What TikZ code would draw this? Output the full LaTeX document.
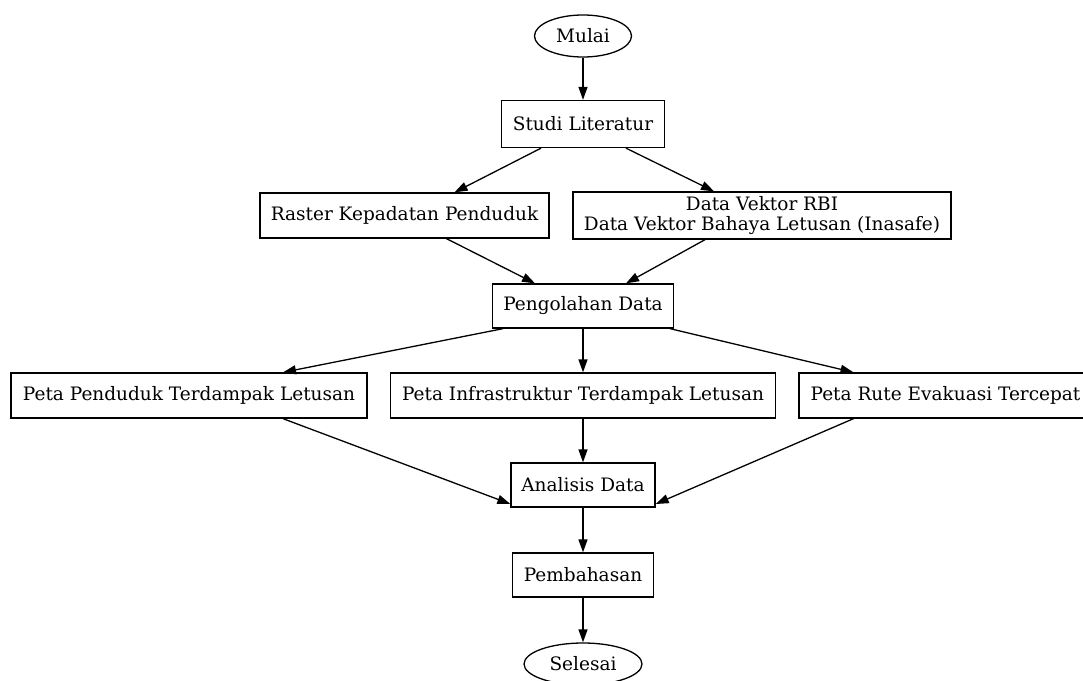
\documentclass[tikz,border=0pt]{standalone}
\usepackage{fontspec}
\setmainfont{DejaVu Serif}
\usetikzlibrary{arrows.meta,shapes.geometric}
\tikzset{
  box/.style={draw, line width=1.3pt, rectangle, inner sep=0pt, align=center, font=\fontsize{18.5}{20.5}\selectfont},
  term/.style={draw, line width=1.3pt, ellipse, inner sep=0pt, font=\fontsize{18.5}{20.5}\selectfont},
  arr/.style={line width=1.3pt, -{Triangle[length=13pt,width=9pt]}}
}
\begin{document}
\begin{tikzpicture}[x=1pt,y=-1pt]
\useasboundingbox (0,0) rectangle (1083,680);
\node[term, minimum width=97pt, minimum height=42pt] (mulai) at (583,36) {Mulai};
\node[box, minimum width=163pt, minimum height=47pt] (studi) at (583,124) {Studi Literatur};
\node[box, minimum width=289pt, minimum height=45pt] (raster) at (404.5,215.5) {Raster Kepadatan Penduduk};
\node[box, minimum width=378pt, minimum height=47pt] (vektor) at (762,215.5) {Data Vektor RBI\\Data Vektor Bahaya Letusan (Inasafe)};
\node[box, minimum width=181pt, minimum height=44pt] (olah) at (583,306) {Pengolahan Data};
\node[box, minimum width=356pt, minimum height=45pt] (pend) at (189,395.5) {Peta Penduduk Terdampak Letusan};
\node[box, minimum width=385pt, minimum height=45pt] (infra) at (583,395.5) {Peta Infrastruktur Terdampak Letusan};
\node[box, minimum width=293pt, minimum height=45pt] (rute) at (945.5,395.5) {Peta Rute Evakuasi Tercepat};
\node[box, minimum width=144pt, minimum height=44pt] (analisis) at (583,485) {Analisis Data};
\node[box, minimum width=141pt, minimum height=44pt] (bahas) at (583,575) {Pembahasan};
\node[term, minimum width=118pt, minimum height=42pt] (selesai) at (583,664) {Selesai};

\draw[arr] (mulai) -- (studi);
\draw[arr] ([xshift=-42pt]studi.south) -- ([xshift=50pt]raster.north);
\draw[arr] ([xshift=43pt]studi.south) -- ([xshift=-48pt]vektor.north);
\draw[arr] ([xshift=42pt]raster.south) -- ([xshift=-48pt]olah.north);
\draw[arr] ([xshift=-57pt]vektor.south) -- ([xshift=43pt]olah.north);
\draw[arr] ([xshift=-80pt]olah.south) -- ([xshift=94pt]pend.north);
\draw[arr] (olah) -- (infra);
\draw[arr] ([xshift=87pt]olah.south) -- ([xshift=-92pt]rute.north);
\draw[arr] ([xshift=94pt]pend.south) -- ([yshift=-19pt]analisis.west);
\draw[arr] (infra) -- (analisis);
\draw[arr] ([xshift=-92pt]rute.south) -- ([yshift=-19pt]analisis.east);
\draw[arr] (analisis) -- (bahas);
\draw[arr] (bahas) -- (selesai);
\end{tikzpicture}
\end{document}
